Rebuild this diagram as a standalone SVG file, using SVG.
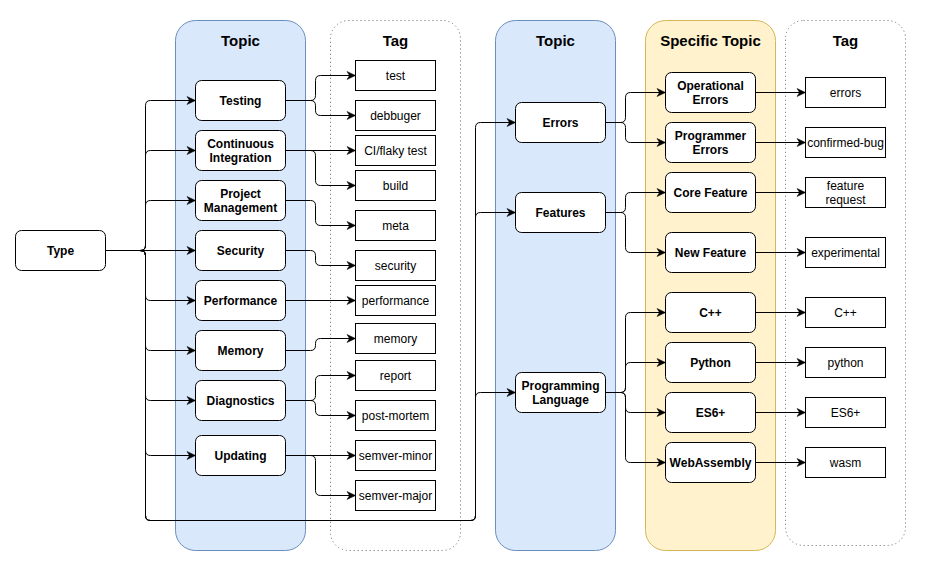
<svg xmlns="http://www.w3.org/2000/svg" width="926" height="572" viewBox="0 0 926 572">
<style>
.lane-blue{fill:#dae8fc;stroke:#6c8ebf;stroke-width:1}
.lane-yellow{fill:#fff2cc;stroke:#d6b656;stroke-width:1}
.lane-dot{fill:#ffffff;stroke:#666666;stroke-width:1;stroke-dasharray:1 3}
.hdr{font-family:"Liberation Sans",Arial,sans-serif;font-size:15px;font-weight:bold;fill:#000;text-anchor:middle}
.node rect{fill:#ffffff;stroke:#000;stroke-width:1}
.node text{font-family:"Liberation Sans",Arial,sans-serif;font-size:12px;font-weight:bold;fill:#000;text-anchor:middle}
.tag rect{fill:#ffffff;stroke:#000;stroke-width:1}
.tag text{font-family:"Liberation Sans",Arial,sans-serif;font-size:12px;fill:#000;text-anchor:middle}
#connectors path{fill:none;stroke:#000;stroke-width:1;marker-end:url(#arr)}
</style>
<defs>
<marker id="arr" markerUnits="userSpaceOnUse" markerWidth="10" markerHeight="10" viewBox="0 0 10 10" refX="9.5" refY="5" orient="auto">
<path d="M1,1 L9.5,5 L1,9 L3.5,5 Z" fill="#000" stroke="#000" stroke-width="0.5"/>
</marker>
</defs>
<rect width="926" height="572" fill="#ffffff"/>

<g id="lane-topic1"><rect class="lane-blue" x="175.5" y="20.5" width="130" height="530" rx="20"/><text class="hdr" x="240.5" y="46">Topic</text></g>
<g id="lane-tag1"><rect class="lane-dot" x="330.5" y="20.5" width="130" height="530" rx="18"/><text class="hdr" x="395.5" y="46">Tag</text></g>
<g id="lane-topic2"><rect class="lane-blue" x="495.5" y="20.5" width="120" height="530" rx="20"/><text class="hdr" x="555.5" y="46">Topic</text></g>
<g id="lane-specific"><rect class="lane-yellow" x="645.5" y="20.5" width="130" height="530" rx="20"/><text class="hdr" x="710.5" y="46">Specific Topic</text></g>
<g id="lane-tag2"><rect class="lane-dot" x="785.5" y="20.5" width="120" height="525" rx="18"/><text class="hdr" x="845.5" y="46">Tag</text></g>

<g id="connectors">
<path d="M105.5,250.5 H140 Q145.5,250.5 145.5,245.5 V105.5 Q145.5,100.5 150.5,100.5 H195.5"/>
<path d="M105.5,250.5 H140 Q145.5,250.5 145.5,245.5 V155.5 Q145.5,150.5 150.5,150.5 H195.5"/>
<path d="M105.5,250.5 H140 Q145.5,250.5 145.5,245.5 V205.5 Q145.5,200.5 150.5,200.5 H195.5"/>
<path d="M105.5,250.5 H195.5"/>
<path d="M105.5,250.5 H140 Q145.5,250.5 145.5,255.5 V295.5 Q145.5,300.5 150.5,300.5 H195.5"/>
<path d="M105.5,250.5 H140 Q145.5,250.5 145.5,255.5 V345.5 Q145.5,350.5 150.5,350.5 H195.5"/>
<path d="M105.5,250.5 H140 Q145.5,250.5 145.5,255.5 V395.5 Q145.5,400.5 150.5,400.5 H195.5"/>
<path d="M105.5,250.5 H140 Q145.5,250.5 145.5,255.5 V450.5 Q145.5,455.5 150.5,455.5 H195.5"/>
<path d="M105.5,250.5 H140 Q145.5,250.5 145.5,255.5 V515.5 Q145.5,520.5 150.5,520.5 H470.5 Q475.5,520.5 475.5,515.5 V127.5 Q475.5,122.5 480.5,122.5 H515.5"/>
<path d="M105.5,250.5 H140 Q145.5,250.5 145.5,255.5 V515.5 Q145.5,520.5 150.5,520.5 H470.5 Q475.5,520.5 475.5,515.5 V217.5 Q475.5,212.5 480.5,212.5 H515.5"/>
<path d="M105.5,250.5 H140 Q145.5,250.5 145.5,255.5 V515.5 Q145.5,520.5 150.5,520.5 H470.5 Q475.5,520.5 475.5,515.5 V397.5 Q475.5,392.5 480.5,392.5 H515.5"/>

<path d="M285.5,100.5 H310.5 Q315.5,100.5 315.5,95.5 V80.5 Q315.5,75.5 320.5,75.5 H355.5"/>
<path d="M285.5,100.5 H310.5 Q315.5,100.5 315.5,105.5 V110.5 Q315.5,115.5 320.5,115.5 H355.5"/>
<path d="M285.5,150.5 H355.5"/>
<path d="M285.5,150.5 H310.5 Q315.5,150.5 315.5,155.5 V180.5 Q315.5,185.5 320.5,185.5 H355.5"/>
<path d="M285.5,200.5 H310.5 Q315.5,200.5 315.5,205.5 V220.5 Q315.5,225.5 320.5,225.5 H355.5"/>
<path d="M285.5,250.5 H310.5 Q315.5,250.5 315.5,255.5 V260.5 Q315.5,265.5 320.5,265.5 H355.5"/>
<path d="M285.5,300.5 H355.5"/>
<path d="M285.5,350.5 H310.5 Q315.5,350.5 315.5,345.5 V343.5 Q315.5,338.5 320.5,338.5 H355.5"/>
<path d="M285.5,400.5 H310.5 Q315.5,400.5 315.5,395.5 V380.5 Q315.5,375.5 320.5,375.5 H355.5"/>
<path d="M285.5,400.5 H310.5 Q315.5,400.5 315.5,405.5 V410.5 Q315.5,415.5 320.5,415.5 H355.5"/>
<path d="M285.5,455.5 H355.5"/>
<path d="M285.5,455.5 H310.5 Q315.5,455.5 315.5,460.5 V490.5 Q315.5,495.5 320.5,495.5 H355.5"/>

<path d="M605.5,122.5 H620.5 Q625.5,122.5 625.5,117.5 V97.5 Q625.5,92.5 630.5,92.5 H665.5"/>
<path d="M605.5,122.5 H620.5 Q625.5,122.5 625.5,127.5 V137.5 Q625.5,142.5 630.5,142.5 H665.5"/>
<path d="M605.5,212.5 H620.5 Q625.5,212.5 625.5,207.5 V197.5 Q625.5,192.5 630.5,192.5 H665.5"/>
<path d="M605.5,212.5 H620.5 Q625.5,212.5 625.5,217.5 V247.5 Q625.5,252.5 630.5,252.5 H665.5"/>
<path d="M605.5,392.5 H620.5 Q625.5,392.5 625.5,387.5 V317.5 Q625.5,312.5 630.5,312.5 H665.5"/>
<path d="M605.5,392.5 H620.5 Q625.5,392.5 625.5,387.5 V367.5 Q625.5,362.5 630.5,362.5 H665.5"/>
<path d="M605.5,392.5 H620.5 Q625.5,392.5 625.5,397.5 V407.5 Q625.5,412.5 630.5,412.5 H665.5"/>
<path d="M605.5,392.5 H620.5 Q625.5,392.5 625.5,397.5 V457.5 Q625.5,462.5 630.5,462.5 H665.5"/>

<path d="M755.5,92.5 H805.5"/>
<path d="M755.5,142.5 H805.5"/>
<path d="M755.5,192.5 H805.5"/>
<path d="M755.5,252.5 H805.5"/>
<path d="M755.5,312.5 H805.5"/>
<path d="M755.5,362.5 H805.5"/>
<path d="M755.5,412.5 H805.5"/>
<path d="M755.5,462.5 H805.5"/>
</g>

<g id="type" class="node"><rect x="15.5" y="230.5" width="90" height="40" rx="6"/><text x="60.5" y="254.5">Type</text></g>

<g id="testing" class="node"><rect x="195.5" y="80.5" width="90" height="40" rx="6"/><text x="240.5" y="104.5">Testing</text></g>
<g id="ci" class="node"><rect x="195.5" y="130.5" width="90" height="40" rx="6"/><text x="240.5" y="148">Continuous</text><text x="240.5" y="162">Integration</text></g>
<g id="pm" class="node"><rect x="195.5" y="180.5" width="90" height="40" rx="6"/><text x="240.5" y="198">Project</text><text x="240.5" y="212">Management</text></g>
<g id="security" class="node"><rect x="195.5" y="230.5" width="90" height="40" rx="6"/><text x="240.5" y="254.5">Security</text></g>
<g id="performance" class="node"><rect x="195.5" y="280.5" width="90" height="40" rx="6"/><text x="240.5" y="304.5">Performance</text></g>
<g id="memory" class="node"><rect x="195.5" y="330.5" width="90" height="40" rx="6"/><text x="240.5" y="354.5">Memory</text></g>
<g id="diagnostics" class="node"><rect x="195.5" y="380.5" width="90" height="40" rx="6"/><text x="240.5" y="404.5">Diagnostics</text></g>
<g id="updating" class="node"><rect x="195.5" y="435.5" width="90" height="40" rx="6"/><text x="240.5" y="459.5">Updating</text></g>

<g id="tag-test" class="tag"><rect x="355.5" y="60.5" width="80" height="30"/><text x="395.5" y="79.5">test</text></g>
<g id="tag-debbuger" class="tag"><rect x="355.5" y="100.5" width="80" height="30"/><text x="395.5" y="119.5">debbuger</text></g>
<g id="tag-ci" class="tag"><rect x="355.5" y="135.5" width="80" height="30"/><text x="395.5" y="154.5">CI/flaky test</text></g>
<g id="tag-build" class="tag"><rect x="355.5" y="170.5" width="80" height="30"/><text x="395.5" y="189.5">build</text></g>
<g id="tag-meta" class="tag"><rect x="355.5" y="210.5" width="80" height="30"/><text x="395.5" y="229.5">meta</text></g>
<g id="tag-security" class="tag"><rect x="355.5" y="250.5" width="80" height="30"/><text x="395.5" y="269.5">security</text></g>
<g id="tag-performance" class="tag"><rect x="355.5" y="285.5" width="80" height="30"/><text x="395.5" y="304.5">performance</text></g>
<g id="tag-memory" class="tag"><rect x="355.5" y="323.5" width="80" height="30"/><text x="395.5" y="342.5">memory</text></g>
<g id="tag-report" class="tag"><rect x="355.5" y="360.5" width="80" height="30"/><text x="395.5" y="379.5">report</text></g>
<g id="tag-postmortem" class="tag"><rect x="355.5" y="400.5" width="80" height="30"/><text x="395.5" y="419.5">post-mortem</text></g>
<g id="tag-semver-minor" class="tag"><rect x="355.5" y="440.5" width="80" height="30"/><text x="395.5" y="459.5">semver-minor</text></g>
<g id="tag-semver-major" class="tag"><rect x="355.5" y="480.5" width="80" height="30"/><text x="395.5" y="499.5">semver-major</text></g>

<g id="errors" class="node"><rect x="515.5" y="102.5" width="90" height="40" rx="6"/><text x="560.5" y="126.5">Errors</text></g>
<g id="features" class="node"><rect x="515.5" y="192.5" width="90" height="40" rx="6"/><text x="560.5" y="216.5">Features</text></g>
<g id="proglang" class="node"><rect x="515.5" y="372.5" width="90" height="40" rx="6"/><text x="560.5" y="390">Programming</text><text x="560.5" y="404">Language</text></g>

<g id="operational-errors" class="node"><rect x="665.5" y="72.5" width="90" height="40" rx="6"/><text x="710.5" y="90">Operational</text><text x="710.5" y="104">Errors</text></g>
<g id="programmer-errors" class="node"><rect x="665.5" y="122.5" width="90" height="40" rx="6"/><text x="710.5" y="140">Programmer</text><text x="710.5" y="154">Errors</text></g>
<g id="core-feature" class="node"><rect x="665.5" y="172.5" width="90" height="40" rx="6"/><text x="710.5" y="196.5">Core Feature</text></g>
<g id="new-feature" class="node"><rect x="665.5" y="232.5" width="90" height="40" rx="6"/><text x="710.5" y="256.5">New Feature</text></g>
<g id="cpp" class="node"><rect x="665.5" y="292.5" width="90" height="40" rx="6"/><text x="710.5" y="316.5">C++</text></g>
<g id="python" class="node"><rect x="665.5" y="342.5" width="90" height="40" rx="6"/><text x="710.5" y="366.5">Python</text></g>
<g id="es6" class="node"><rect x="665.5" y="392.5" width="90" height="40" rx="6"/><text x="710.5" y="416.5">ES6+</text></g>
<g id="webassembly" class="node"><rect x="665.5" y="442.5" width="90" height="40" rx="6"/><text x="710.5" y="466.5">WebAssembly</text></g>

<g id="tag-errors" class="tag"><rect x="805.5" y="77.5" width="80" height="30"/><text x="845.5" y="96.5">errors</text></g>
<g id="tag-confirmed-bug" class="tag"><rect x="805.5" y="127.5" width="80" height="30"/><text x="845.5" y="146.5">confirmed-bug</text></g>
<g id="tag-feature-request" class="tag"><rect x="805.5" y="177.5" width="80" height="30"/><text x="845.5" y="190">feature</text><text x="845.5" y="203.5">request</text></g>
<g id="tag-experimental" class="tag"><rect x="805.5" y="237.5" width="80" height="30"/><text x="845.5" y="256.5">experimental</text></g>
<g id="tag-cpp" class="tag"><rect x="805.5" y="297.5" width="80" height="30"/><text x="845.5" y="316.5">C++</text></g>
<g id="tag-python" class="tag"><rect x="805.5" y="347.5" width="80" height="30"/><text x="845.5" y="366.5">python</text></g>
<g id="tag-es6" class="tag"><rect x="805.5" y="397.5" width="80" height="30"/><text x="845.5" y="416.5">ES6+</text></g>
<g id="tag-wasm" class="tag"><rect x="805.5" y="447.5" width="80" height="30"/><text x="845.5" y="466.5">wasm</text></g>
</svg>
